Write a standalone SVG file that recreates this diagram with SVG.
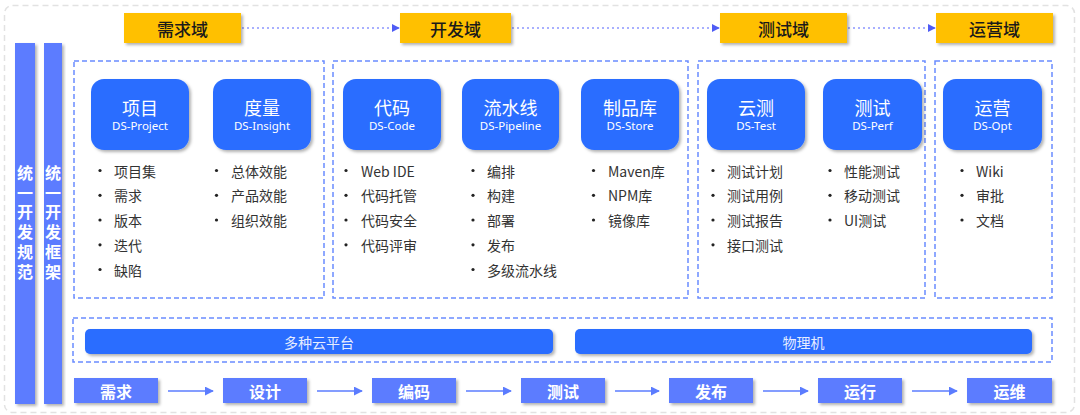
<svg xmlns="http://www.w3.org/2000/svg" width="1080" height="415" viewBox="0 0 1080 415">
<defs>
<filter id="sh" x="-10%" y="-10%" width="130%" height="140%">
<feDropShadow dx="2" dy="2" stdDeviation="1.5" flood-color="#000" flood-opacity="0.3"/>
</filter>
<marker id="ad" viewBox="0 0 10 10" refX="9" refY="5" markerWidth="8" markerHeight="8" markerUnits="userSpaceOnUse" orient="auto">
<path d="M0,0 L10,5 L0,10 z" fill="#4f5cf5"/>
</marker>
<marker id="as" viewBox="0 0 10 10" refX="9" refY="5" markerWidth="9" markerHeight="9" markerUnits="userSpaceOnUse" orient="auto">
<path d="M0,0 L10,5 L0,10 z" fill="#5b7cff"/>
</marker>
</defs>
<style>
.cjk{font-family:"Noto Sans CJK SC","Noto Sans",sans-serif}
.dom rect{fill:#ffc000;filter:url(#sh)}
.dom text{font-size:17px;fill:#1a1a1a;text-anchor:middle;dominant-baseline:central;font-weight:500}
.grp{fill:none;stroke:#6a8cff;stroke-width:1.5;stroke-dasharray:5 3}
.node rect{fill:#2a6dff;filter:url(#sh)}
.node .lbl{fill:#fff;text-anchor:middle}
.node .t{font-size:18px}
.node .s{font-size:11.5px;font-family:"Noto Sans","Noto Sans CJK SC",sans-serif}
.list text{font-size:14px;fill:#333;dominant-baseline:central}
.list circle{fill:#222}
.vbar rect{fill:#5b7cff;filter:url(#sh)}
.vbar text{font-size:16px;font-weight:bold;fill:#fff;writing-mode:vertical-rl;text-orientation:upright;letter-spacing:3.7px}
.infra rect{fill:#2a6dff;filter:url(#sh)}
.infra text{font-size:14px;fill:#e6ecff;text-anchor:middle;dominant-baseline:central}
.step rect{fill:#5b7cff;filter:url(#sh)}
.step text{font-size:16px;font-weight:bold;fill:#fff;text-anchor:middle;dominant-baseline:central}
.dot{stroke:#8c96ff;stroke-width:1.5;stroke-dasharray:2 3;fill:none}
.sol{stroke:#5b7cff;stroke-width:1.5;fill:none}
</style>
<rect x="0" y="0" width="1080" height="415" fill="#fff"/>
<rect x="4.5" y="5.5" width="1070" height="407" rx="8" fill="none" stroke="#e2e2e2" stroke-width="1.5" stroke-dasharray="6 4"/>

<g id="connectors">
<line class="dot" x1="242" y1="28" x2="399" y2="28" marker-end="url(#ad)"/>
<line class="dot" x1="512" y1="28" x2="719" y2="28" marker-end="url(#ad)"/>
<line class="dot" x1="848" y1="28" x2="935" y2="28" marker-end="url(#ad)"/>
<line class="sol" x1="168" y1="391" x2="213" y2="391" marker-end="url(#as)"/>
<line class="sol" x1="317" y1="391" x2="362" y2="391" marker-end="url(#as)"/>
<line class="sol" x1="466" y1="391" x2="511" y2="391" marker-end="url(#as)"/>
<line class="sol" x1="615" y1="391" x2="659" y2="391" marker-end="url(#as)"/>
<line class="sol" x1="763" y1="391" x2="808" y2="391" marker-end="url(#as)"/>
<line class="sol" x1="912" y1="391" x2="957" y2="391" marker-end="url(#as)"/>
</g>

<g id="domain-req" class="dom cjk"><rect x="124" y="13" width="117" height="30"/><text x="182.5" y="28">需求域</text></g>
<g id="domain-dev" class="dom cjk"><rect x="400" y="13" width="111" height="30"/><text x="455.5" y="28">开发域</text></g>
<g id="domain-test" class="dom cjk"><rect x="720" y="13" width="127" height="30"/><text x="783.5" y="28">测试域</text></g>
<g id="domain-ops" class="dom cjk"><rect x="936" y="13" width="117" height="30"/><text x="994.5" y="28">运营域</text></g>

<g id="spec" class="vbar cjk">
<rect x="15" y="43" width="20" height="361"/>
<text x="25" y="165">统一开发规范</text>
</g>
<g id="framework" class="vbar cjk">
<rect x="44" y="43" width="18" height="361"/>
<text x="53" y="165">统一开发框架</text>
</g>

<g id="group-req"><rect class="grp" x="74" y="61" width="250" height="237"/></g>
<g id="group-dev"><rect class="grp" x="333" y="61" width="355" height="237"/></g>
<g id="group-test"><rect class="grp" x="698" y="61" width="227" height="237"/></g>
<g id="group-ops"><rect class="grp" x="935" y="61" width="117" height="237"/></g>

<g id="node-project" class="node cjk">
<rect x="91" y="79" width="98" height="71" rx="13"/>
<text class="lbl"><tspan class="t" x="140" y="114.5">项目</tspan><tspan class="s" x="140" y="130">DS-Project</tspan></text>
<g class="list"><circle cx="100" cy="170.5" r="1.6"/><circle cx="100" cy="195.3" r="1.6"/><circle cx="100" cy="220" r="1.6"/><circle cx="100" cy="244.8" r="1.6"/><circle cx="100" cy="269.5" r="1.6"/>
<text x="114" y="170.5">项目集</text><text x="114" y="195.3">需求</text><text x="114" y="220">版本</text><text x="114" y="244.8">迭代</text><text x="114" y="269.5">缺陷</text></g>
</g>
<g id="node-insight" class="node cjk">
<rect x="213" y="79" width="98" height="71" rx="13"/>
<text class="lbl"><tspan class="t" x="262" y="114.5">度量</tspan><tspan class="s" x="262" y="130">DS-Insight</tspan></text>
<g class="list"><circle cx="216.5" cy="170.5" r="1.6"/><circle cx="216.5" cy="195.3" r="1.6"/><circle cx="216.5" cy="220" r="1.6"/>
<text x="231" y="170.5">总体效能</text><text x="231" y="195.3">产品效能</text><text x="231" y="220">组织效能</text></g>
</g>
<g id="node-code" class="node cjk">
<rect x="343" y="79" width="98" height="71" rx="13"/>
<text class="lbl"><tspan class="t" x="392" y="114.5">代码</tspan><tspan class="s" x="392" y="130">DS-Code</tspan></text>
<g class="list"><circle cx="346" cy="170.5" r="1.6"/><circle cx="346" cy="195.3" r="1.6"/><circle cx="346" cy="220" r="1.6"/><circle cx="346" cy="244.8" r="1.6"/>
<text x="361" y="170.5">Web IDE</text><text x="361" y="195.3">代码托管</text><text x="361" y="220">代码安全</text><text x="361" y="244.8">代码评审</text></g>
</g>
<g id="node-pipeline" class="node cjk">
<rect x="462" y="79" width="97" height="71" rx="13"/>
<text class="lbl"><tspan class="t" x="510.5" y="114.5">流水线</tspan><tspan class="s" x="510.5" y="130">DS-Pipeline</tspan></text>
<g class="list"><circle cx="473" cy="170.5" r="1.6"/><circle cx="473" cy="195.3" r="1.6"/><circle cx="473" cy="220" r="1.6"/><circle cx="473" cy="244.8" r="1.6"/><circle cx="473" cy="269.5" r="1.6"/>
<text x="487" y="170.5">编排</text><text x="487" y="195.3">构建</text><text x="487" y="220">部署</text><text x="487" y="244.8">发布</text><text x="487" y="269.5">多级流水线</text></g>
</g>
<g id="node-store" class="node cjk">
<rect x="581" y="79" width="98" height="71" rx="13"/>
<text class="lbl"><tspan class="t" x="630" y="114.5">制品库</tspan><tspan class="s" x="630" y="130">DS-Store</tspan></text>
<g class="list"><circle cx="593.5" cy="170.5" r="1.6"/><circle cx="593.5" cy="195.3" r="1.6"/><circle cx="593.5" cy="220" r="1.6"/>
<text x="608" y="170.5">Maven库</text><text x="608" y="195.3">NPM库</text><text x="608" y="220">镜像库</text></g>
</g>
<g id="node-test" class="node cjk">
<rect x="707" y="79" width="98" height="71" rx="13"/>
<text class="lbl"><tspan class="t" x="756" y="114.5">云测</tspan><tspan class="s" x="756" y="130">DS-Test</tspan></text>
<g class="list"><circle cx="713" cy="170.5" r="1.6"/><circle cx="713" cy="195.3" r="1.6"/><circle cx="713" cy="220" r="1.6"/><circle cx="713" cy="244.8" r="1.6"/>
<text x="727" y="170.5">测试计划</text><text x="727" y="195.3">测试用例</text><text x="727" y="220">测试报告</text><text x="727" y="244.8">接口测试</text></g>
</g>
<g id="node-perf" class="node cjk">
<rect x="823" y="79" width="99" height="71" rx="13"/>
<text class="lbl"><tspan class="t" x="872.5" y="114.5">测试</tspan><tspan class="s" x="872.5" y="130">DS-Perf</tspan></text>
<g class="list"><circle cx="830" cy="170.5" r="1.6"/><circle cx="830" cy="195.3" r="1.6"/><circle cx="830" cy="220" r="1.6"/>
<text x="844" y="170.5">性能测试</text><text x="844" y="195.3">移动测试</text><text x="844" y="220">UI测试</text></g>
</g>
<g id="node-opt" class="node cjk">
<rect x="943" y="79" width="99" height="71" rx="13"/>
<text class="lbl"><tspan class="t" x="992.5" y="114.5">运营</tspan><tspan class="s" x="992.5" y="130">DS-Opt</tspan></text>
<g class="list"><circle cx="962" cy="170.5" r="1.6"/><circle cx="962" cy="195.3" r="1.6"/><circle cx="962" cy="220" r="1.6"/>
<text x="976" y="170.5">Wiki</text><text x="976" y="195.3">审批</text><text x="976" y="220">文档</text></g>
</g>

<g id="infra"><rect class="grp" x="73" y="318" width="979" height="44"/></g>
<g id="cloud" class="infra cjk"><rect x="85" y="329" width="468" height="25" rx="5"/><text x="319" y="341.5">多种云平台</text></g>
<g id="physical" class="infra cjk"><rect x="575" y="329" width="457" height="25" rx="5"/><text x="803.5" y="341.5">物理机</text></g>

<g id="step-req" class="step cjk"><rect x="74" y="378" width="84" height="25"/><text x="116" y="390.5">需求</text></g>
<g id="step-design" class="step cjk"><rect x="223" y="378" width="84" height="25"/><text x="265" y="390.5">设计</text></g>
<g id="step-code" class="step cjk"><rect x="372" y="378" width="84" height="25"/><text x="414" y="390.5">编码</text></g>
<g id="step-test" class="step cjk"><rect x="521" y="378" width="84" height="25"/><text x="563" y="390.5">测试</text></g>
<g id="step-release" class="step cjk"><rect x="669" y="378" width="84" height="25"/><text x="711" y="390.5">发布</text></g>
<g id="step-run" class="step cjk"><rect x="818" y="378" width="84" height="25"/><text x="860" y="390.5">运行</text></g>
<g id="step-ops" class="step cjk"><rect x="967" y="378" width="85" height="25"/><text x="1009.5" y="390.5">运维</text></g>
</svg>
